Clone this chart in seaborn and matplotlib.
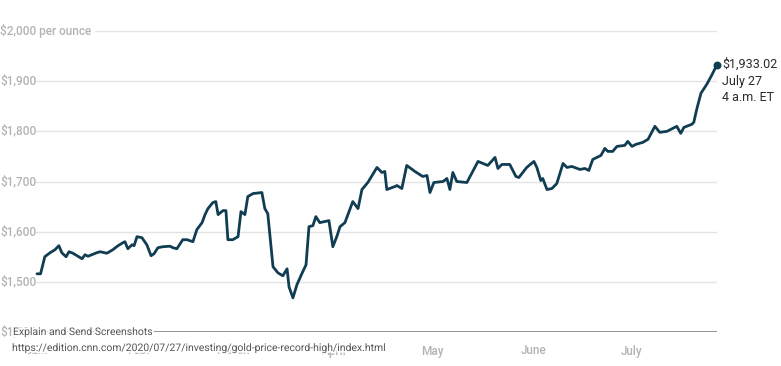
import numpy as np
import pandas as pd
import matplotlib
matplotlib.use("Agg")
import matplotlib.pyplot as plt
import matplotlib.transforms as mtransforms
import matplotlib.patheffects as pe
import seaborn as sns

# days after Jan 1 2020, gold price in $ per ounce
days = [0.0, 1.1, 2.4, 4.0, 5.5, 6.7, 7.6, 8.9, 9.8, 11.0, 13.8, 14.7, 15.6,
        18.3, 19.3, 21.4, 23.2, 24.8, 26.3, 26.9, 27.8, 29.1, 29.7, 30.6,
        32.1, 33.6, 34.9, 35.8, 37.0, 38.5, 40.7, 41.6, 42.8, 44.6, 45.9,
        47.7, 48.9, 50.5, 51.4, 52.3, 53.8, 54.7, 55.4, 56.9, 57.8, 58.4,
        59.9, 61.5, 62.4, 63.6, 64.5, 66.1, 68.8, 69.7, 70.6, 72.2, 73.7,
        75.2, 76.5, 77.1, 78.3, 79.5, 81.0, 82.3, 83.2, 84.4, 85.3, 86.5,
        89.3, 90.5, 91.7, 92.7, 94.2, 96.6, 98.2, 99.4, 101.2, 104.0, 105.5,
        106.4, 107.0, 109.5, 110.1, 111.6, 113.1, 115.6, 118.0, 119.3, 120.2,
        121.4, 124.2, 125.4, 126.3, 127.2, 128.4, 131.5, 134.9, 137.9, 140.1,
        141.0, 142.2, 144.6, 146.5, 147.4, 149.8, 152.0, 152.9, 154.1, 154.7,
        156.0, 157.5, 159.0, 160.9, 162.1, 163.6, 166.1, 167.6, 168.8, 170.0,
        172.5, 173.7, 174.6, 176.1, 177.4, 179.8, 180.7, 182.0, 183.2, 185.3,
        186.9, 189.0, 190.5, 192.7, 194.5, 195.7, 196.9, 197.9, 200.3, 200.9,
        201.8, 203.1, 204.9, 206.4, 208.0]
prices = [1516, 1516, 1550, 1558, 1564, 1572, 1558, 1550, 1560, 1557, 1546,
          1554, 1551, 1558, 1560, 1557, 1564, 1572, 1578, 1580, 1566, 1574,
          1572, 1590, 1588, 1574, 1552, 1556, 1568, 1570, 1571, 1568, 1566,
          1584, 1584, 1580, 1604, 1618, 1634, 1646, 1658, 1660, 1634, 1642,
          1642, 1584, 1584, 1590, 1640, 1634, 1670, 1676, 1678, 1646, 1636,
          1530, 1518, 1512, 1526, 1490, 1468, 1494, 1516, 1534, 1610, 1612,
          1630, 1618, 1622, 1570, 1590, 1610, 1618, 1660, 1646, 1684, 1698,
          1728, 1718, 1720, 1684, 1690, 1692, 1686, 1732, 1720, 1710, 1712,
          1678, 1698, 1700, 1706, 1684, 1718, 1700, 1698, 1740, 1732, 1748,
          1726, 1734, 1734, 1710, 1708, 1728, 1740, 1728, 1702, 1706, 1684,
          1686, 1696, 1736, 1728, 1730, 1724, 1726, 1722, 1744, 1752, 1766,
          1760, 1760, 1770, 1772, 1780, 1770, 1774, 1778, 1784, 1810, 1798,
          1800, 1806, 1810, 1796, 1808, 1814, 1818, 1844, 1876, 1894, 1912,
          1933.02]

month_starts = ["2020-01-01", "2020-02-01", "2020-03-01", "2020-04-01",
                "2020-05-01", "2020-06-01", "2020-07-01"]
month_labels = ["Jan.", "Feb.", "March", "April", "May", "June", "July"]

y_ticks = [1400, 1500, 1600, 1700, 1800, 1900, 2000]
y_labels = ["$1,400", "$1,500", "$1,600", "$1,700", "$1,800", "$1,900",
            "$2,000 per ounce"]

end_label = ["$1,933.02", "July 27", "4 a.m. ET"]

sns.set_style("white")
plt.rcParams["font.family"] = ["Roboto", "DejaVu Sans"]

start = pd.Timestamp("2020-01-01")
df = pd.DataFrame({
    "date": start + pd.to_timedelta(days, unit="D"),
    "price": prices,
})

W, H = 781, 366
fig = plt.figure(figsize=(W / 100, H / 100), dpi=100)
ax = fig.add_axes([35 / W, 34 / H, (717 - 35) / W, 301 / H])

grey = "#b3b3b3"
line_col = "#113d53"

# gridlines
for v in y_ticks[1:]:
    xmin = 0.088 if v == 2000 else 0
    ax.axhline(v, xmin=xmin, color="#e3e3e3", lw=1, zorder=0)
ax.axhline(1400, color="#747474", lw=1.8, zorder=1)

sns.lineplot(data=df, x="date", y="price", color=line_col, lw=2.0, ax=ax,
             zorder=3, solid_joinstyle="round", solid_capstyle="round")
ax.scatter(df["date"].iloc[-1], df["price"].iloc[-1], s=22, color=line_col,
           zorder=4, clip_on=False)

ax.set_xlim(start - pd.Timedelta(days=0.6), start + pd.Timedelta(days=208))
ax.set_ylim(1400, 2000)
sns.despine(ax=ax, left=True, bottom=True)

ax.set_xticks(pd.to_datetime(month_starts))
ax.set_xticklabels(month_labels)
ax.tick_params(axis="x", length=0, pad=9, labelsize=8.5, labelcolor=grey)
for t in ax.get_xticklabels():
    t.set_fontweight("medium")
ax.set_yticks([])
ax.set_xlabel("")
ax.set_ylabel("")

trans = mtransforms.blended_transform_factory(fig.transFigure, ax.transData)
for v, lab in zip(y_ticks, y_labels):
    ax.text(0, v, lab, transform=trans, ha="left", va="center",
            fontsize=8.5, color=grey, fontweight="medium")

for i, lab in enumerate(end_label):
    ax.annotate(lab, (df["date"].iloc[-1], df["price"].iloc[-1]),
                xytext=(5, -16.5 * i), textcoords="offset pixels",
                ha="left", va="center", fontsize=9, color="#2a2a2a",
                annotation_clip=False)

# screenshot tool watermark
stroke = [pe.withStroke(linewidth=2.5, foreground="white")]
fig.text(13 / W, 1 - 332 / H, "Explain and Send Screenshots", ha="left",
         va="center", fontsize=7.5, color="#555555", path_effects=stroke)
fig.text(12 / W, 1 - 348 / H,
         "https://edition.cnn.com/2020/07/27/investing/gold-price-record-high/index.html",
         ha="left", va="center", fontsize=7.5, color="#555555",
         path_effects=stroke)

fig.savefig("out.png", dpi=100, facecolor="white")
